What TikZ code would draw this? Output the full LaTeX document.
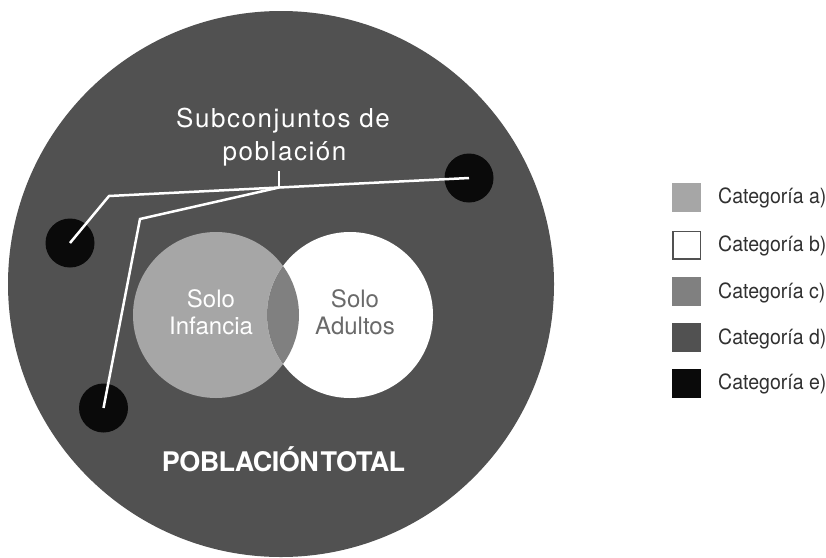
\documentclass[tikz,border=0pt]{standalone}
\usepackage{fontspec}
\setmainfont{TeX Gyre Heros}
\newfontfamily\legfont[FakeStretch=0.93]{TeX Gyre Heros}
\definecolor{bigc}{HTML}{515151}
\definecolor{lightg}{HTML}{A6A6A6}
\definecolor{midg}{HTML}{808080}
\definecolor{dotc}{HTML}{0A0A0A}
\definecolor{adtxt}{HTML}{6A6A6A}
\definecolor{legtxtc}{HTML}{303030}
\begin{document}
\begin{tikzpicture}[x=1pt,y=-1pt,
  dotn/.style={circle,fill=dotc,minimum size=49pt,inner sep=0pt},
  venn/.style={circle,minimum size=166pt,inner sep=0pt},
  conn/.style={draw=white,line width=2.5pt,line join=miter},
  sq/.style={rectangle,minimum size=29pt,inner sep=0pt},
  legtxt/.style={anchor=base west,inner sep=0pt,text=legtxtc,font=\legfont\fontsize{21}{25}\selectfont},
  lab/.style={anchor=base,inner sep=0pt,font=\fontsize{24}{28}\selectfont},
  sublab/.style={lab,text=white,font=\fontsize{26}{30}\selectfont\addfontfeatures{LetterSpace=6}}]
\useasboundingbox (0,0) rectangle (826,557);
% big circle
\node[circle,fill=bigc,minimum size=546pt,inner sep=0pt] (tot) at (281,284) {};
% venn
\node[venn,fill=lightg] (inf) at (216,315) {};
\node[venn,fill=white] (adu) at (350,315) {};
\begin{scope}
  \clip (216,315) circle[radius=83pt];
  \fill[midg] (350,315) circle[radius=83pt];
\end{scope}
% subset dots
\node[dotn] (dr) at (469,178) {};
\node[dotn] (dl) at (70,243) {};
\node[dotn] (db) at (103.5,408) {};
% connectors
\coordinate (e1) at (109,196);
\coordinate (e2) at (140,219);
\coordinate (jn) at (279,187.5);
\coordinate (tk) at (279,171);
\draw[conn] (dl.center) -- (e1) -- (dr.center);
\draw[conn] (jn) -- (e2) -- (db.center);
\draw[conn] (tk) -- (jn);
% texts
\node[sublab] (sub1) at (283,127) {Subconjuntos de};
\node[sublab] (sub2) at (284.5,160) {población};
\node[lab,text=white] (si1) at (211,307) {Solo};
\node[lab,text=white] (si2) at (211,334) {Infancia};
\node[lab,text=adtxt] (sa1) at (355,307) {Solo};
\node[lab,text=adtxt] (sa2) at (355,334) {Adultos};
\node[lab,text=white,font=\bfseries\fontsize{27}{30}\selectfont\addfontfeatures{LetterSpace=-2}] (pt) at (283.5,471) {POBLACIÓN\hspace{-5pt} TOTAL};
% legend
\node[sq,fill=lightg] (la) at (686.5,197) {};
\node[sq,fill=white,draw=bigc,line width=1.5pt,minimum size=27.5pt] (lb) at (686.5,245) {};
\node[sq,fill=midg] (lc) at (686.5,291.5) {};
\node[sq,fill=bigc] (ld) at (686.5,337.5) {};
\node[sq,fill=dotc] (le) at (686.5,383) {};
\node[legtxt] (ta) at (718,203.5) {Categoría a)};
\node[legtxt] (tb) at (718,251.5) {Categoría b)};
\node[legtxt] (tc) at (718,298) {Categoría c)};
\node[legtxt] (td) at (718,344) {Categoría d)};
\node[legtxt] (te) at (718,389.5) {Categoría e)};
\end{tikzpicture}
\end{document}
